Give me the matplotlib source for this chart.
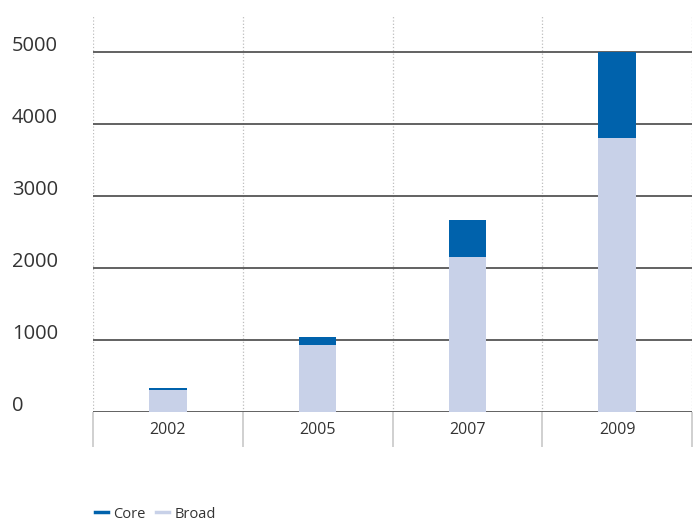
import matplotlib.pyplot as plt
from matplotlib.lines import Line2D
from matplotlib.transforms import ScaledTranslation
import numpy as np

# Valeurs par année (Broad en bas, Core empilé au-dessus)
years = ['2002', '2005', '2007', '2009']
broad = [300, 935, 2150, 3805]
core = [40, 110, 515, 1195]
y_ticks = [0, 1000, 2000, 3000, 4000, 5000]

core_color = '#0062AC'
broad_color = '#C8D1E8'
text_color = '#333333'

plt.rcParams['font.family'] = ['Open Sans', 'DejaVu Sans']

fig = plt.figure(figsize=(6.94, 5.2), dpi=100)
W, H = 694, 520
ax = fig.add_axes([93 / W, (H - 412) / H, (692 - 93) / W, (412 - 15) / H])

x = np.arange(len(years)) + 0.5
ax.bar(x, broad, width=0.25, color=broad_color, zorder=3)
ax.bar(x, core, width=0.25, bottom=broad, color=core_color, zorder=3)

ax.set_xlim(0, len(years))
ax.set_ylim(0, 5514)

# Lignes horizontales
for v in y_ticks:
    ax.axhline(v, color='#555555', linewidth=1.3, zorder=1)
# Séparateurs verticaux pointillés
for v in range(len(years) + 1):
    ax.axvline(v, color='#BDBDBD', linewidth=0.9, linestyle=':', zorder=0)

for s in ax.spines.values():
    s.set_visible(False)

# Graduations x : séparateurs sous l'axe + libellés centrés
ax.set_xticks(range(len(years) + 1))
ax.set_xticklabels([])
ax.tick_params(axis='x', which='major', length=25.5, width=1.2, color='#C8C8C8')
ax.set_xticks(x, minor=True)
ax.set_xticklabels(years, minor=True, fontsize=11.5, color=text_color)
ax.tick_params(axis='x', which='minor', length=0, pad=7.5)

# Graduations y : libellés alignés à gauche, légèrement au-dessus des lignes
ax.set_yticks(y_ticks)
ax.set_yticklabels([str(v) for v in y_ticks], fontsize=14.5, color=text_color, ha='left')
ax.tick_params(axis='y', length=0, pad=58.3)
for lbl in ax.get_yticklabels():
    lbl.set_transform(lbl.get_transform() + ScaledTranslation(0, 8.5 / 100, fig.dpi_scale_trans))

handles = [Line2D([], [], color=core_color, linewidth=2.5),
           Line2D([], [], color=broad_color, linewidth=2.5)]
fig.legend(handles, ['Core', 'Broad'], loc='center left',
           bbox_to_anchor=(82 / W, (H - 514) / H), ncol=2, frameon=False,
           handlelength=0.9, handletextpad=0.35, columnspacing=0.7,
           fontsize=10.5, labelcolor=text_color)

fig.savefig('out.png', dpi=100)
